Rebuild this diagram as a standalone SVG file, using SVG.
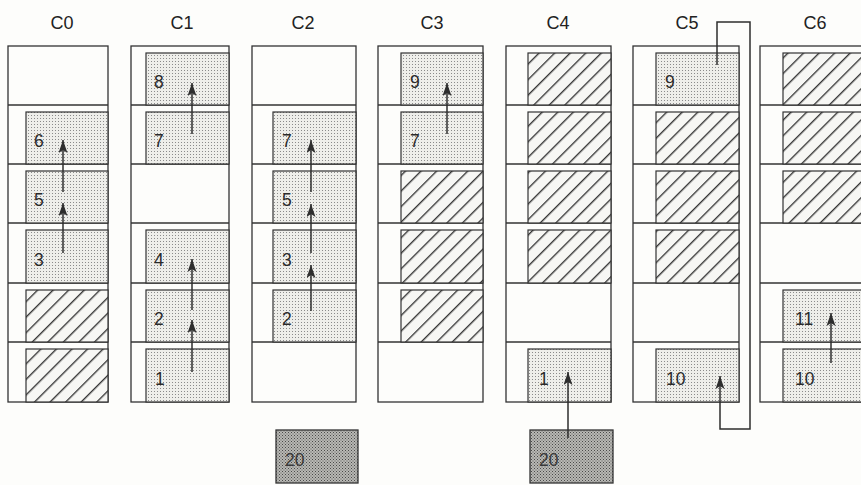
<svg xmlns="http://www.w3.org/2000/svg" width="861" height="485" viewBox="0 0 861 485">
<defs>
<pattern id="dots" patternUnits="userSpaceOnUse" width="3" height="3">
<rect width="3" height="3" fill="#eeeeea"/>
<rect x="1" y="1" width="1" height="1" fill="#8a8a8a"/>
</pattern>
<pattern id="dark" patternUnits="userSpaceOnUse" width="3" height="3">
<rect width="3" height="3" fill="#b8b8b4"/>
<rect x="0" y="0" width="1" height="1" fill="#4a4a4a"/>
<rect x="1.5" y="1.5" width="1" height="1" fill="#5a5a5a"/>
</pattern>
<pattern id="hatch" patternUnits="userSpaceOnUse" width="11" height="12" patternTransform="rotate(45)">
<rect width="11" height="12" fill="#f7f7f4"/>
<line x1="0.7" y1="0" x2="0.7" y2="12" stroke="#2a2a2a" stroke-width="1.3"/>
</pattern>
<marker id="ah" markerUnits="userSpaceOnUse" markerWidth="14" markerHeight="10" refX="13" refY="4.5" orient="auto">
<path d="M0,0 L13,4.5 L0,9 L3,4.5 z" fill="#2e2e2e"/>
</marker>
</defs>
<style>
.col{fill:#fdfdfb;stroke:#333;stroke-width:1.3}
.sep{stroke:#333;stroke-width:1.5}
.dot{fill:url(#dots);stroke:#333;stroke-width:1.2}
.hat{fill:url(#hatch);stroke:#333;stroke-width:1.2}
.drk{fill:url(#dark);stroke:#333;stroke-width:1.3}
.lbl{font-family:"Liberation Sans",Arial,sans-serif;font-size:17.5px;fill:#2a2a2a}
.hdr{font-family:"Liberation Sans",Arial,sans-serif;font-size:18px;fill:#222;text-anchor:middle}
.dl{font-family:"Liberation Sans",Arial,sans-serif;font-size:17.5px;fill:#3a3a3a}
.arr{stroke:#2e2e2e;stroke-width:1.5;fill:none;marker-end:url(#ah)}
</style>
<rect width="861" height="485" fill="#fdfdfb"/>

<!-- headers -->
<g id="headers">
<text class="hdr" x="62" y="29">C0</text>
<text class="hdr" x="182" y="29">C1</text>
<text class="hdr" x="303" y="29">C2</text>
<text class="hdr" x="432" y="29">C3</text>
<text class="hdr" x="558" y="29">C4</text>
<text class="hdr" x="687" y="29">C5</text>
<text class="hdr" x="815" y="29">C6</text>
</g>

<!-- C0 -->
<g id="C0">
<rect class="col" x="8" y="46" width="100" height="356"/>
<line class="sep" x1="8" y1="105" x2="108" y2="105"/>
<line class="sep" x1="8" y1="164" x2="108" y2="164"/>
<line class="sep" x1="8" y1="223" x2="108" y2="223"/>
<line class="sep" x1="8" y1="283" x2="108" y2="283"/>
<line class="sep" x1="8" y1="342" x2="108" y2="342"/>
<g id="C0-6"><rect class="dot" x="26" y="112" width="82" height="52"/><text class="lbl" x="34" y="147">6</text></g>
<g id="C0-5"><rect class="dot" x="26" y="171" width="82" height="52"/><text class="lbl" x="34" y="206">5</text></g>
<g id="C0-3"><rect class="dot" x="26" y="230" width="82" height="53"/><text class="lbl" x="34" y="266">3</text></g>
<g id="C0-h5"><rect class="hat" x="26" y="290" width="82" height="52"/></g>
<g id="C0-h6"><rect class="hat" x="26" y="349" width="82" height="53"/></g>
</g>

<!-- C1 -->
<g id="C1">
<rect class="col" x="131" y="46" width="98" height="356"/>
<line class="sep" x1="131" y1="105" x2="229" y2="105"/>
<line class="sep" x1="131" y1="164" x2="229" y2="164"/>
<line class="sep" x1="131" y1="223" x2="229" y2="223"/>
<line class="sep" x1="131" y1="283" x2="229" y2="283"/>
<line class="sep" x1="131" y1="342" x2="229" y2="342"/>
<g id="C1-8"><rect class="dot" x="146" y="53" width="83" height="52"/><text class="lbl" x="154" y="88">8</text></g>
<g id="C1-7"><rect class="dot" x="146" y="112" width="83" height="52"/><text class="lbl" x="154" y="147">7</text></g>
<g id="C1-4"><rect class="dot" x="146" y="230" width="83" height="53"/><text class="lbl" x="154" y="266">4</text></g>
<g id="C1-2"><rect class="dot" x="146" y="290" width="83" height="52"/><text class="lbl" x="154" y="325">2</text></g>
<g id="C1-1"><rect class="dot" x="146" y="349" width="83" height="53"/><text class="lbl" x="155" y="385">1</text></g>
</g>

<!-- C2 -->
<g id="C2">
<rect class="col" x="252" y="46" width="104" height="356"/>
<line class="sep" x1="252" y1="105" x2="356" y2="105"/>
<line class="sep" x1="252" y1="164" x2="356" y2="164"/>
<line class="sep" x1="252" y1="223" x2="356" y2="223"/>
<line class="sep" x1="252" y1="283" x2="356" y2="283"/>
<line class="sep" x1="252" y1="342" x2="356" y2="342"/>
<g id="C2-7"><rect class="dot" x="273" y="112" width="83" height="52"/><text class="lbl" x="282" y="147">7</text></g>
<g id="C2-5"><rect class="dot" x="273" y="171" width="83" height="52"/><text class="lbl" x="282" y="206">5</text></g>
<g id="C2-3"><rect class="dot" x="273" y="230" width="83" height="53"/><text class="lbl" x="282" y="266">3</text></g>
<g id="C2-2"><rect class="dot" x="273" y="290" width="83" height="52"/><text class="lbl" x="282" y="325">2</text></g>
</g>
<g id="C2-20"><rect class="drk" x="276" y="430" width="82" height="53"/><text class="dl" x="285" y="466">20</text></g>

<!-- C3 -->
<g id="C3">
<rect class="col" x="378" y="46" width="105" height="356"/>
<line class="sep" x1="378" y1="105" x2="483" y2="105"/>
<line class="sep" x1="378" y1="164" x2="483" y2="164"/>
<line class="sep" x1="378" y1="223" x2="483" y2="223"/>
<line class="sep" x1="378" y1="283" x2="483" y2="283"/>
<line class="sep" x1="378" y1="342" x2="483" y2="342"/>
<g id="C3-9"><rect class="dot" x="401" y="53" width="82" height="52"/><text class="lbl" x="410" y="88">9</text></g>
<g id="C3-7"><rect class="dot" x="401" y="112" width="82" height="52"/><text class="lbl" x="410" y="147">7</text></g>
<g id="C3-h3"><rect class="hat" x="401" y="171" width="82" height="52"/></g>
<g id="C3-h4"><rect class="hat" x="401" y="230" width="82" height="53"/></g>
<g id="C3-h5"><rect class="hat" x="401" y="290" width="82" height="52"/></g>
</g>

<!-- C4 -->
<g id="C4">
<rect class="col" x="506" y="46" width="105" height="356"/>
<line class="sep" x1="506" y1="105" x2="611" y2="105"/>
<line class="sep" x1="506" y1="164" x2="611" y2="164"/>
<line class="sep" x1="506" y1="223" x2="611" y2="223"/>
<line class="sep" x1="506" y1="283" x2="611" y2="283"/>
<line class="sep" x1="506" y1="342" x2="611" y2="342"/>
<g id="C4-h1"><rect class="hat" x="528" y="53" width="83" height="52"/></g>
<g id="C4-h2"><rect class="hat" x="528" y="112" width="83" height="52"/></g>
<g id="C4-h3"><rect class="hat" x="528" y="171" width="83" height="52"/></g>
<g id="C4-h4"><rect class="hat" x="528" y="230" width="83" height="53"/></g>
<g id="C4-1"><rect class="dot" x="528" y="349" width="83" height="53"/><text class="lbl" x="539" y="385">1</text></g>
</g>
<g id="C4-20"><rect class="drk" x="530" y="430" width="83" height="53"/><text class="dl" x="539" y="466">20</text></g>

<!-- C5 -->
<g id="C5">
<rect class="col" x="633" y="46" width="106" height="356"/>
<line class="sep" x1="633" y1="105" x2="739" y2="105"/>
<line class="sep" x1="633" y1="164" x2="739" y2="164"/>
<line class="sep" x1="633" y1="223" x2="739" y2="223"/>
<line class="sep" x1="633" y1="283" x2="739" y2="283"/>
<line class="sep" x1="633" y1="342" x2="739" y2="342"/>
<g id="C5-9"><rect class="dot" x="656" y="53" width="83" height="52"/><text class="lbl" x="665" y="88">9</text></g>
<g id="C5-h2"><rect class="hat" x="656" y="112" width="83" height="52"/></g>
<g id="C5-h3"><rect class="hat" x="656" y="171" width="83" height="52"/></g>
<g id="C5-h4"><rect class="hat" x="656" y="230" width="83" height="53"/></g>
<g id="C5-10"><rect class="dot" x="656" y="349" width="83" height="53"/><text class="lbl" x="666" y="385">10</text></g>
</g>

<!-- C6 -->
<g id="C6">
<rect class="col" x="760" y="46" width="110" height="356"/>
<line class="sep" x1="760" y1="105" x2="861" y2="105"/>
<line class="sep" x1="760" y1="164" x2="861" y2="164"/>
<line class="sep" x1="760" y1="223" x2="861" y2="223"/>
<line class="sep" x1="760" y1="283" x2="861" y2="283"/>
<line class="sep" x1="760" y1="342" x2="861" y2="342"/>
<g id="C6-h1"><rect class="hat" x="783" y="53" width="90" height="52"/></g>
<g id="C6-h2"><rect class="hat" x="783" y="112" width="90" height="52"/></g>
<g id="C6-h3"><rect class="hat" x="783" y="171" width="90" height="52"/></g>
<g id="C6-11"><rect class="dot" x="783" y="290" width="90" height="52"/><text class="lbl" x="795" y="325">11</text></g>
<g id="C6-10"><rect class="dot" x="783" y="349" width="90" height="53"/><text class="lbl" x="795" y="385">10</text></g>
</g>

<!-- connectors -->
<g id="connectors">
<line class="arr" x1="63" y1="253" x2="63" y2="203"/>
<line class="arr" x1="63" y1="192" x2="63" y2="140"/>
<line class="arr" x1="192" y1="134" x2="192" y2="83"/>
<line class="arr" x1="192" y1="372" x2="192" y2="320"/>
<line class="arr" x1="192" y1="310" x2="192" y2="259"/>
<line class="arr" x1="311" y1="311" x2="311" y2="265"/>
<line class="arr" x1="311" y1="253" x2="311" y2="204"/>
<line class="arr" x1="311" y1="192" x2="311" y2="140"/>
<line class="arr" x1="447" y1="134" x2="447" y2="83"/>
<line class="arr" x1="568" y1="438" x2="568" y2="372"/>
<path class="arr" d="M717,65 V22 H750 V429 H720 V376"/>
<line class="arr" x1="831" y1="363" x2="831" y2="313"/>
</g>
</svg>
